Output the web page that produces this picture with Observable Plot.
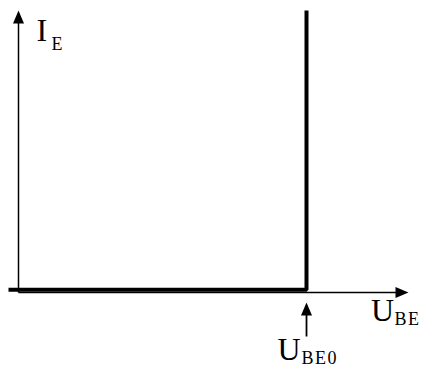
<!DOCTYPE html>
<html>
<head>
<meta charset="utf-8">
<script src="https://cdn.jsdelivr.net/npm/d3@7"></script>
<script src="https://cdn.jsdelivr.net/npm/@observablehq/plot@0.6"></script>
<style>
  html, body { margin: 0; padding: 0; background: #fff; }
  #chart { width: 421px; height: 366px; }
</style>
</head>
<body>
<div id="chart"></div>
<script>
// Characteristic curve I_E(U_BE): zero until U_BE0, then vertical
const curveU = [-0.025, 0.72, 0.72];
const curveI = [0.01, 0.01, 1.0];

// Axes (with arrow tips)
const axisXEnd = 0.975;
const axisYEnd = 1.0;
const ube0 = 0.72;
const pointerFrom = -0.156;
const pointerTip = -0.0355;

// Labels: main letter + subscript
const labelMain = ["I", "U", "U"];
const labelSub = ["E", "BE", "BE0"];
const labelX = [0.045, 0.8815, 0.6475];
const labelY = [0.8901, -0.1028, -0.2376];
const subX = [0.0825, 0.94, 0.7075];
const subY = [0.8617, -0.117, -0.2518];

const labels = labelMain.map((m, i) => ({main: m, sub: labelSub[i], x: labelX[i], y: labelY[i], sx: subX[i], sy: subY[i]}));
const curve = curveU.map((u, i) => ({u, i: curveI[i]}));

const arrowHead = {
  draw(context) {
    context.moveTo(0, 0);
    context.lineTo(-5.5, 13);
    context.lineTo(5.5, 13);
    context.closePath();
  }
};

const font = "'Liberation Serif', 'DejaVu Serif', serif";

const chart = Plot.plot({
  width: 421,
  height: 366,
  marginLeft: 18,
  marginRight: 3,
  marginTop: 10,
  marginBottom: 74,
  x: {domain: [0, 1], axis: null},
  y: {domain: [0, 1], axis: null},
  style: {background: "#fff", color: "#000", overflow: "visible"},
  marks: [
    // x axis
    Plot.link([{x1: 0, y1: 0, x2: axisXEnd - 0.02, y2: 0}], {x1: "x1", y1: "y1", x2: "x2", y2: "y2", stroke: "#000", strokeWidth: 1.5}),
    Plot.dot([{x: axisXEnd, y: 0}], {x: "x", y: "y", symbol: arrowHead, rotate: 90, fill: "#000", stroke: "none"}),
    // y axis
    Plot.link([{x1: 0, y1: 0, x2: 0, y2: axisYEnd - 0.03}], {x1: "x1", y1: "y1", x2: "x2", y2: "y2", stroke: "#000", strokeWidth: 1.5}),
    Plot.dot([{x: 0, y: axisYEnd}], {x: "x", y: "y", symbol: arrowHead, fill: "#000", stroke: "none"}),
    // characteristic
    Plot.line(curve, {x: "u", y: "i", stroke: "#000", strokeWidth: 4, strokeLinecap: "butt", strokeLinejoin: "miter"}),
    // U_BE0 pointer
    Plot.link([{x1: ube0, y1: pointerFrom, x2: ube0, y2: pointerTip - 0.03}], {x1: "x1", y1: "y1", x2: "x2", y2: "y2", stroke: "#000", strokeWidth: 1.8}),
    Plot.dot([{x: ube0, y: pointerTip}], {x: "x", y: "y", symbol: arrowHead, fill: "#000", stroke: "none"}),
    // labels
    Plot.text(labels, {x: "x", y: "y", text: "main", textAnchor: "start", lineAnchor: "bottom", fontSize: 32, fontFamily: font, fill: "#000"}),
    Plot.text(labels, {x: "sx", y: "sy", text: "sub", textAnchor: "start", lineAnchor: "bottom", fontSize: 18, fontFamily: font, fill: "#000"})
  ]
});

// slightly spaced subscripts, like the typewriter lettering of the original
const textGroups = chart.querySelectorAll('g[aria-label="text"]');
if (textGroups[1]) textGroups[1].setAttribute("letter-spacing", "1.5");

document.getElementById("chart").appendChild(chart);
</script>
</body>
</html>
